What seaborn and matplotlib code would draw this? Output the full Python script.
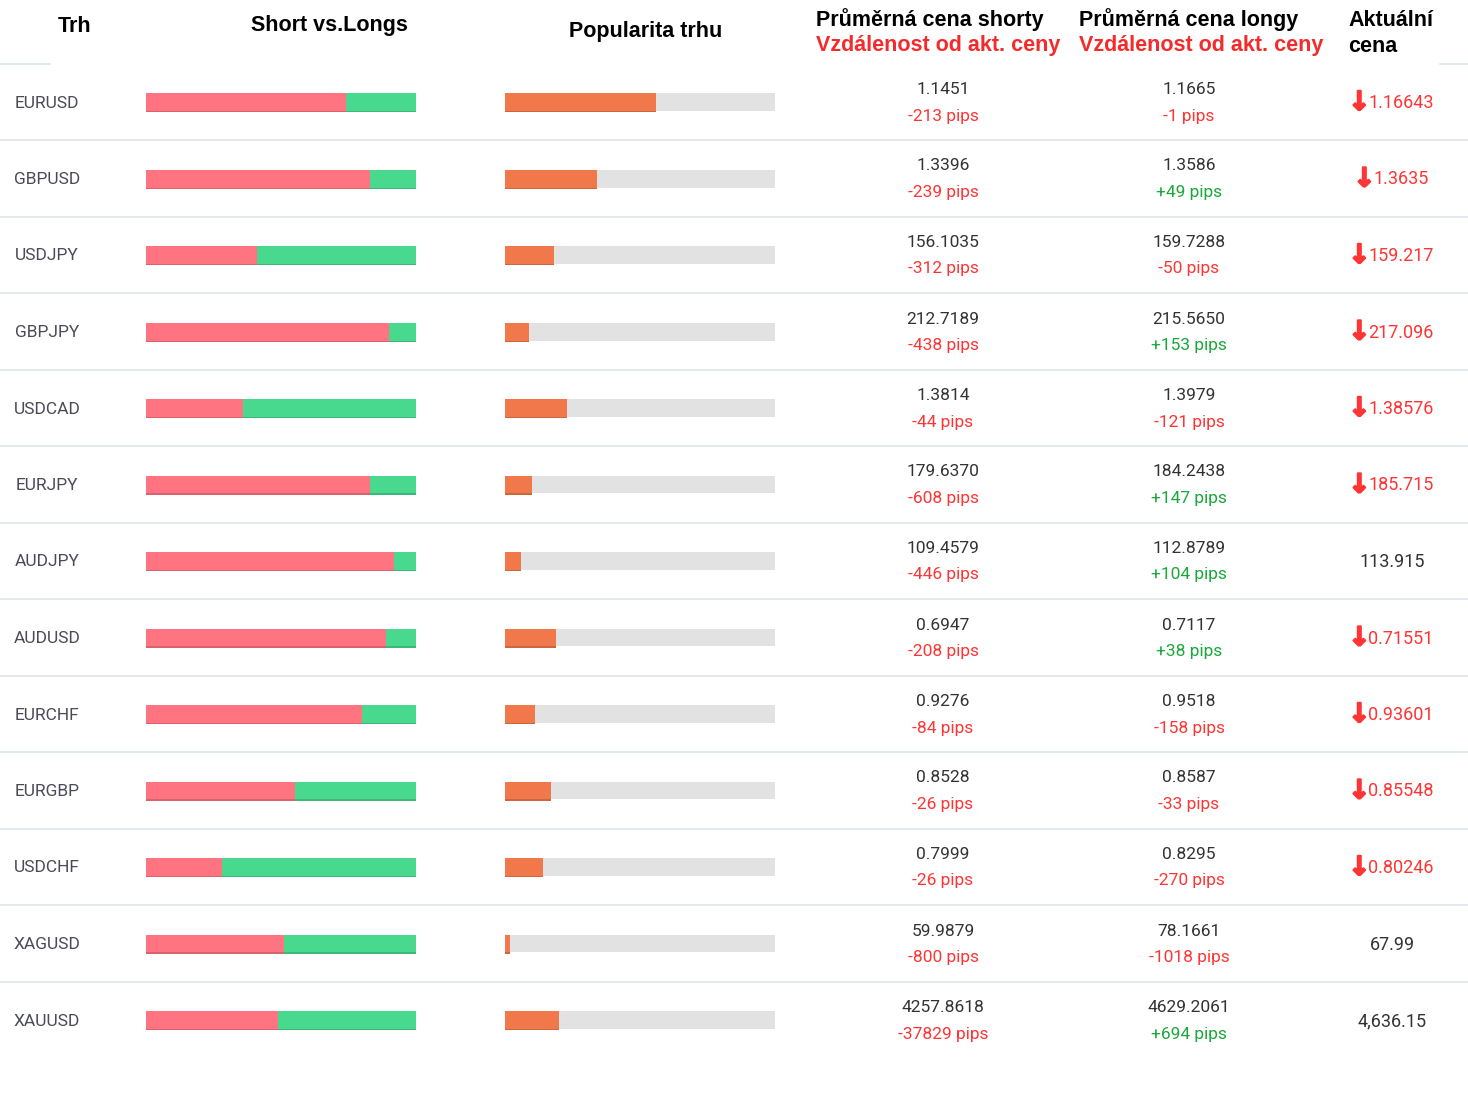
import matplotlib
matplotlib.use("Agg")
import matplotlib.pyplot as plt
import matplotlib.patheffects as pe
import matplotlib.colors as mcolors
import seaborn as sns
import pandas as pd
import numpy as np

# ---------------- data ----------------
markets = ["EURUSD", "GBPUSD", "USDJPY", "GBPJPY", "USDCAD", "EURJPY", "AUDJPY",
           "AUDUSD", "EURCHF", "EURGBP", "USDCHF", "XAGUSD", "XAUUSD"]
short_pct = [74, 83, 41, 90, 36, 83, 92, 89, 80, 55, 28, 51, 49]
popularity = [56, 34, 18, 9, 23, 10, 6, 19, 11, 17, 14, 2, 20]
short_avg = ["1.1451", "1.3396", "156.1035", "212.7189", "1.3814", "179.6370", "109.4579",
             "0.6947", "0.9276", "0.8528", "0.7999", "59.9879", "4257.8618"]
short_pips = [-213, -239, -312, -438, -44, -608, -446, -208, -84, -26, -26, -800, -37829]
long_avg = ["1.1665", "1.3586", "159.7288", "215.5650", "1.3979", "184.2438", "112.8789",
            "0.7117", "0.9518", "0.8587", "0.8295", "78.1661", "4629.2061"]
long_pips = [-1, 49, -50, 153, -121, 147, 104, 38, -158, -33, -270, -1018, 694]
current_price = ["1.16643", "1.3635", "159.217", "217.096", "1.38576", "185.715", "113.915",
                 "0.71551", "0.93601", "0.85548", "0.80246", "67.99", "4,636.15"]
current_down = [True, True, True, True, True, True, False, True, True, True, True, False, False]

headers = ["Trh", "Short vs.Longs", "Popularita trhu"]
hdr_short = "Průměrná cena shorty"
hdr_long = "Průměrná cena longy"
hdr_dist = "Vzdálenost od akt. ceny"
hdr_cur = ["Aktuální", "cena"]

# ---------------- style ----------------
RED_BAR = "#ff7480"
GREEN_BAR = "#48d98e"
ORANGE = "#f0784a"
GRAY_BAR = "#e2e2e2"
TXT = "#333333"
NAME = "#4a4a58"
RED_TXT = "#ff3535"
GREEN_TXT = "#1aa83a"
SEP = "#e4e9ef"

sns.set_theme(style="white")
plt.rcParams["font.family"] = ["Roboto", "DejaVu Sans"]

W, H = 1468, 1093
fig = plt.figure(figsize=(W / 100, H / 100), dpi=100)
fig.patch.set_facecolor("white")

bg = fig.add_axes([0, 0, 1, 1])
bg.set_xlim(0, W)
bg.set_ylim(H, 0)
bg.axis("off")

n = len(markets)
row0, step = 102.0, 76.5
rows_y = [row0 + i * step for i in range(n)]

# separators
for i in range(n - 1):
    y = row0 + (i + 0.5) * step
    bg.plot([0, W], [y, y], color=SEP, lw=1.5, solid_capstyle="butt")
bg.plot([0, 50], [64, 64], color=SEP, lw=1.5)
bg.plot([1440, W], [64, 64], color=SEP, lw=1.5)

# headers
hfont = dict(family=["Liberation Sans", "DejaVu Sans"], fontweight="bold", fontsize=15.5)
bg.text(75, 26, headers[0], ha="center", va="center", color="black", **hfont)
bg.text(329, 26, headers[1], ha="center", va="center", color="black", **hfont)
bg.text(646, 32, headers[2], ha="center", va="center", color="black", **hfont)
bg.text(816, 20, hdr_short, ha="left", va="center", color="black", **hfont)
bg.text(816, 46, hdr_dist, ha="left", va="center", color="#f52a2a", **hfont)
bg.text(1079, 20, hdr_long, ha="left", va="center", color="black", **hfont)
bg.text(1079, 46, hdr_dist, ha="left", va="center", color="#f52a2a", **hfont)
bg.text(1348, 20, hdr_cur[0], ha="left", va="center", color="black", **hfont)
bg.text(1348, 46, hdr_cur[1], ha="left", va="center", color="black", **hfont)

# row texts
for i, y in enumerate(rows_y):
    bg.text(47, y + 1, markets[i], ha="center", va="center", color=NAME, fontsize=12.5)
    bg.text(943, y - 12.5, short_avg[i], ha="center", va="center", color=TXT, fontsize=12.5)
    sp = short_pips[i]
    bg.text(943, y + 14, f"{sp:+d} pips", ha="center", va="center",
            color=GREEN_TXT if sp > 0 else RED_TXT, fontsize=12.5)
    bg.text(1189, y - 12.5, long_avg[i], ha="center", va="center", color=TXT, fontsize=12.5)
    lp = long_pips[i]
    bg.text(1189, y + 14, f"{lp:+d} pips", ha="center", va="center",
            color=GREEN_TXT if lp > 0 else RED_TXT, fontsize=12.5)
    if current_down[i]:
        t = bg.text(1401, y + 1, current_price[i], ha="center", va="center",
                    color=RED_TXT, fontsize=13)
        bg.annotate("↓", xy=(0, 0.5), xycoords=t, xytext=(1.5, 0),
                    textcoords="offset points", ha="right", va="center",
                    color=RED_TXT, fontsize=19, fontweight="bold",
                    family=["DejaVu Sans"],
                    path_effects=[pe.withStroke(linewidth=1.4, foreground=RED_TXT)])
    else:
        bg.text(1392, y + 1, current_price[i], ha="center", va="center", color=TXT, fontsize=13)

# ---------------- bars ----------------
df = pd.DataFrame({"market": markets, "short": short_pct, "total": 100,
                   "pop": popularity})

bottom = 1 - (row0 + (n - 0.5) * step) / H
height = n * step / H
bw = 18 / step


def darker(c, f=0.85):
    r, g, b = mcolors.to_rgb(c)
    return (r * f, g * f, b * f)


def shade(patches, color):
    for p in patches:
        p.set_path_effects([pe.SimplePatchShadow(offset=(0, -0.9),
                                                 shadow_rgbFace=darker(color),
                                                 alpha=1.0),
                            pe.Normal()])


ax1 = fig.add_axes([146 / W, bottom, 270 / W, height])
sns.barplot(data=df, x="total", y="market", color=GREEN_BAR, saturation=1,
            width=bw, linewidth=0, ax=ax1, orient="h")
npat = len(ax1.patches)
shade(ax1.patches[:npat], GREEN_BAR)
sns.barplot(data=df, x="short", y="market", color=RED_BAR, saturation=1,
            width=bw, linewidth=0, ax=ax1, orient="h")
shade(ax1.patches[npat:], RED_BAR)
ax1.set_xlim(0, 100)
ax1.set_ylim(n - 0.5, -0.5)
ax1.axis("off")
ax1.patch.set_alpha(0)

ax2 = fig.add_axes([505 / W, bottom, 270 / W, height])
sns.barplot(data=df, x="total", y="market", color=GRAY_BAR, saturation=1,
            width=bw, linewidth=0, ax=ax2, orient="h")
npat = len(ax2.patches)
sns.barplot(data=df, x="pop", y="market", color=ORANGE, saturation=1,
            width=bw, linewidth=0, ax=ax2, orient="h")
shade(ax2.patches[npat:], ORANGE)
ax2.set_xlim(0, 100)
ax2.set_ylim(n - 0.5, -0.5)
ax2.axis("off")
ax2.patch.set_alpha(0)

fig.savefig("out.png", dpi=100, facecolor="white")
